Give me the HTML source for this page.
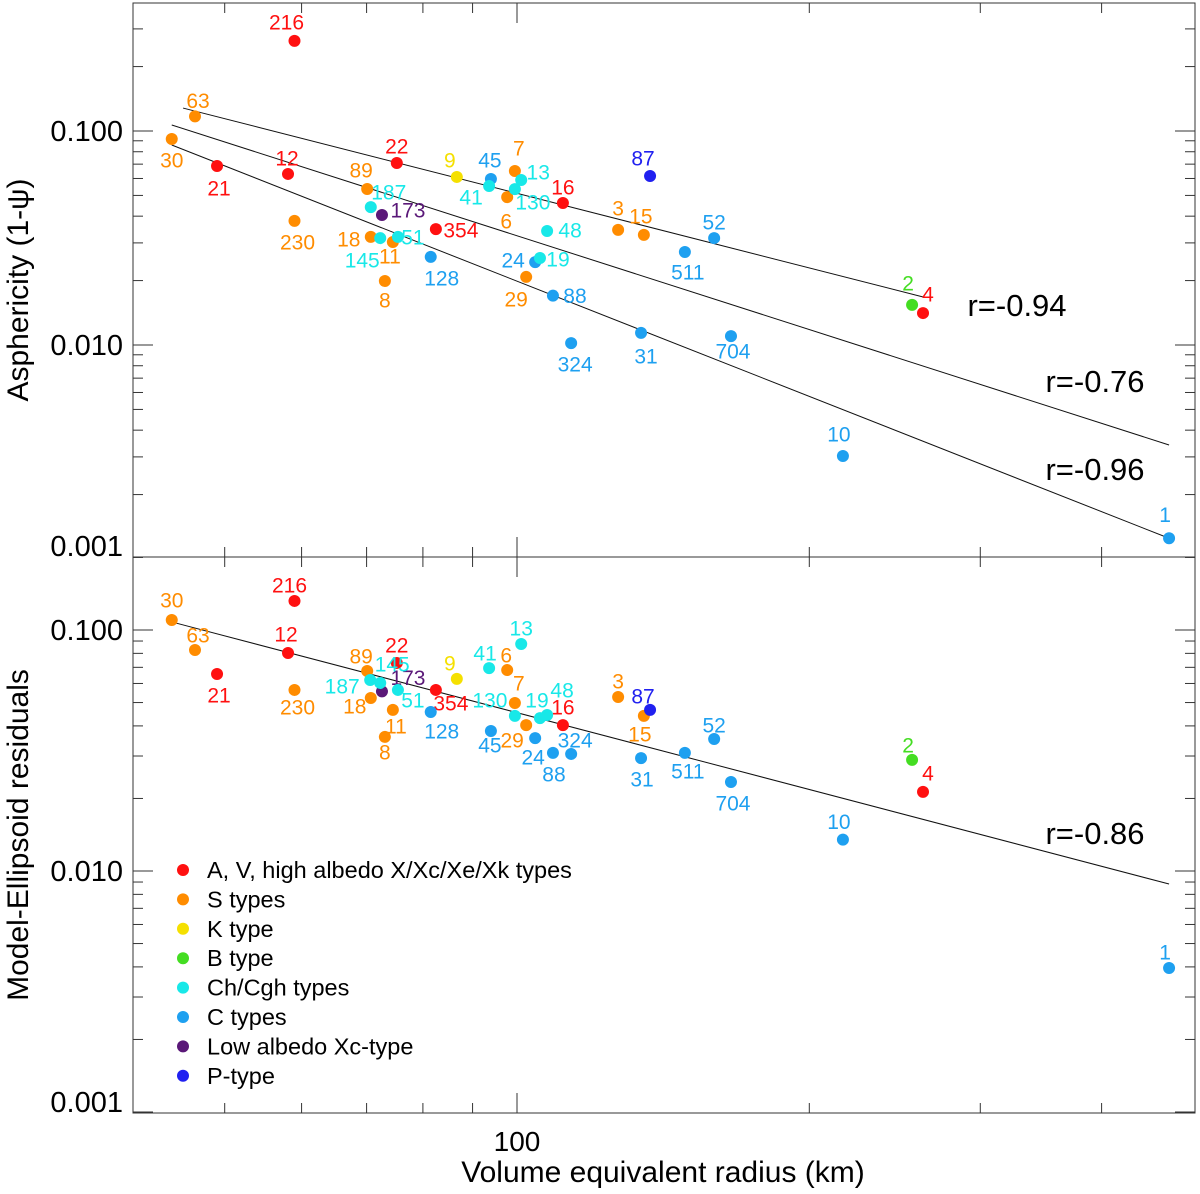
<!DOCTYPE html>
<html><head><meta charset="utf-8"><style>
body{margin:0;background:#fff}
svg{display:block;font-family:"Liberation Sans",sans-serif}
</style></head><body>
<svg id="c" width="1200" height="1194"></svg>
<script>
const names=["216","63","30","21","12","230","89","22","187","173","18","145","11","51","8","354","128","9","45","41","7","6","13","130","16","48","24","19","29","88","324","3","15","87","31","511","52","704","2","4","10","1"];
const types=["A","S","S","A","A","S","S","A","Ch","Xl","S","Ch","S","Ch","S","A","C","K","C","Ch","S","S","Ch","Ch","A","Ch","C","Ch","S","C","C","S","S","P","C","C","C","C","B","A","C","C"];
const radius=[59.0,46.6,44.1,49.1,58.1,59.0,70.1,75.2,70.7,72.6,70.7,72.3,74.5,75.4,73.1,82.5,81.5,86.7,94.0,93.6,99.5,97.7,101.0,99.5,111.5,107.4,104.4,105.6,102.2,108.9,113.7,127.1,135.1,137.1,134.2,148.9,159.6,166.1,255.2,261.9,216.6,469.4];
const radiusBottom=[59.0,46.6,44.1,49.1,58.1,59.0,70.1,75.2,70.6,72.6,70.7,72.3,74.5,75.4,73.1,82.5,81.5,86.7,94.0,93.6,99.5,97.7,101.0,99.5,111.5,107.4,104.4,105.6,102.2,108.9,113.7,127.1,135.1,137.1,134.2,148.9,159.6,166.1,255.2,261.9,216.6,469.4];
const asphericity=[0.2636,0.117,0.0918,0.0686,0.063,0.038,0.0536,0.0709,0.0441,0.0405,0.032,0.0316,0.0303,0.032,0.0199,0.0348,0.0258,0.061,0.0597,0.0553,0.065,0.0491,0.059,0.0535,0.0461,0.0341,0.0244,0.0255,0.0208,0.017,0.0102,0.0345,0.0327,0.0616,0.0114,0.0272,0.0316,0.011,0.0154,0.0141,0.00303,0.00125];
const residuals=[0.132,0.0826,0.110,0.0657,0.0803,0.0564,0.0676,0.073,0.062,0.0556,0.0522,0.0603,0.0466,0.0564,0.036,0.0564,0.0457,0.0627,0.0381,0.0695,0.0498,0.0682,0.0875,0.044,0.0403,0.0444,0.0356,0.0431,0.0403,0.0309,0.0306,0.0527,0.044,0.0466,0.0294,0.0309,0.0353,0.0234,0.0289,0.0213,0.0135,0.00396];
const labOffTop=[[-8,-19],[3,-16],[0,21],[2,22],[-1,-16],[3,21],[-6,-19],[0,-17],[18,-15],[26,-5],[-22,2],[-18,22],[-3,14],[15,0],[0,19],[25,1],[11,21],[-7,-17],[-1,-19],[-18,11],[4,-23],[-1,24],[17,-8],[18,13],[0,-16],[23,-1],[-22,-2],[18,1],[-10,22],[22,0],[4,21],[0,-22],[-3,-19],[-7,-18],[5,23],[3,20],[0,-16],[2,15],[-4,-22],[5,-19],[-4,-22],[-4,-24]];
const labOffBot=[[-5,-16],[3,-15],[0,-20],[2,21],[-2,-19],[3,17],[-6,-15],[0,-18],[-28,6],[26,-14],[-16,8],[12,-19],[3,16],[15,10],[0,15],[15,13],[11,19],[-7,-16],[-1,14],[-4,-15],[4,-20],[-1,-15],[0,-16],[-25,-16],[0,-18],[15,-25],[-2,19],[-3,-18],[-14,15],[1,21],[4,-14],[0,-16],[-4,18],[-7,-14],[1,21],[3,18],[0,-14],[2,21],[-4,-15],[5,-19],[-4,-18],[-4,-16]];
const fitTopR=[[45.3,262],[44.1,469.4],[44.1,469.4]];
const fitTopV=[[0.128,0.01676],[0.1067,0.00341],[0.086,0.00125]];
const fitTopLabels=["r=-0.94","r=-0.76","r=-0.96"];
const fitBotR=[44.1,469.4];
const fitBotV=[0.108,0.00883];
const fitBotLabel="r=-0.86";
const colors={A:"#ff1010",S:"#ff8c00",K:"#f5e000",B:"#44dd22",Ch:"#18e8e8",C:"#1ea0f0",Xl:"#5a1878",P:"#2020f0"};
const legendTypes=["A","S","K","B","Ch","C","Xl","P"];
const legendLabels=["A, V, high albedo X/Xc/Xe/Xk types","S types","K type","B type","Ch/Cgh types","C types","Low albedo Xc-type","P-type"];

const L=133,R=1195,T=3,MID=557,B=1113;
const X=r=>517+971*Math.log10(r/100);
const YT=v=>131-214*(Math.log10(v)+1);
const YB=v=>630-241*(Math.log10(v)+1);
const svg=document.getElementById('c');
const NS="http://www.w3.org/2000/svg";
function mk(tag,at,parent){const e=document.createElementNS(NS,tag);for(const k in at)e.setAttribute(k,at[k]);(parent||svg).appendChild(e);return e;}
function txt(s,at){const e=mk('text',at);e.textContent=s;return e;}

const f1=mk('rect',{x:L,y:T,width:R-L,height:MID-T,fill:'none',stroke:'#333','stroke-width':1});


const f2=mk('rect',{x:L,y:MID,width:R-L,height:B-MID,fill:'none',stroke:'#333','stroke-width':1});



const xticks=[50,60,70,80,90,100,200,300,400];
xticks.forEach(t=>{const x=X(t),len=t===100?20:10;
 [[MID,-1],[T,1],[B,-1],[MID,1]].forEach(([y,d])=>{const l=mk('line',{x1:x,x2:x,y1:y,y2:y+d*len,stroke:'#333'});});
});
const xl=txt("100",{x:X(100),y:1151,'font-size':28,'text-anchor':'middle'});



function yticks(Y,lo,hi,top,bot,labels){
 for(let e=lo;e<hi;e++)for(let m=1;m<10;m++){const v=m*Math.pow(10,e);const y=Y(v);if(y<top-0.5||y>bot+0.5)continue;const len=m===1?20:10;
  [[L,1],[R,-1]].forEach(([x,d])=>{const l=mk('line',{x1:x,x2:x+d*len,y1:y,y2:y,stroke:'#333'});});}
 labels.forEach(v=>{const t=txt(v.toFixed(3),{x:123,y:Math.min(Y(v)+10,bot-1),'font-size':29,'text-anchor':'end'});});
}
yticks(YT,-3,0,T,MID,[0.1,0.01,0.001]);
yticks(YB,-3,0,MID,B,[0.1,0.01,0.001]);

fitTopR.forEach((rr,i)=>{const l=mk('line',{x1:X(rr[0]),y1:YT(fitTopV[i][0]),x2:X(rr[1]),y2:YT(fitTopV[i][1]),stroke:'#111','stroke-width':1});});
const fb=mk('line',{x1:X(fitBotR[0]),y1:YB(fitBotV[0]),x2:X(fitBotR[1]),y2:YB(fitBotV[1]),stroke:'#111','stroke-width':1});


[[1017,316],[1095,392],[1095,480]].forEach((p,i)=>{const t=txt(fitTopLabels[i],{x:p[0],y:p[1],'font-size':31,'text-anchor':'middle'});});
const cb=txt(fitBotLabel,{x:1095,y:844,'font-size':31,'text-anchor':'middle'});



function pts(Y,rs,vals,offs,pre){
 names.forEach((n,i)=>{const x=X(rs[i]),y=Y(vals[i]),c=colors[types[i]];
  const p=mk('circle',{cx:x,cy:y,r:6,fill:c});
  
  
  const t=txt(n,{x:x+offs[i][0],y:y+offs[i][1]+7.5,'font-size':21,'text-anchor':'middle',fill:c});
  
  
 });
}
pts(YT,radius,asphericity,labOffTop,'top');
pts(YB,radiusBottom,residuals,labOffBot,'bottom');

legendTypes.forEach((k,i)=>{const y=870+i*29.4;
 const d=mk('circle',{cx:183,cy:y,r:6,fill:colors[k]});
 
 
 const t=txt(legendLabels[i],{x:207,y:y+8,'font-size':23.5});
 
 
});

const xt=txt("Volume equivalent radius (km)",{x:663,y:1182,'font-size':30,'text-anchor':'middle'});


const yt1=txt("Asphericity (1-ψ)",{x:0,y:0,'font-size':30,'text-anchor':'middle',transform:'translate(28,290) rotate(-90)'});


const yt2=txt("Model-Ellipsoid residuals",{x:0,y:0,'font-size':30,'text-anchor':'middle',transform:'translate(28,835) rotate(-90)'});


</script>
</body></html>
